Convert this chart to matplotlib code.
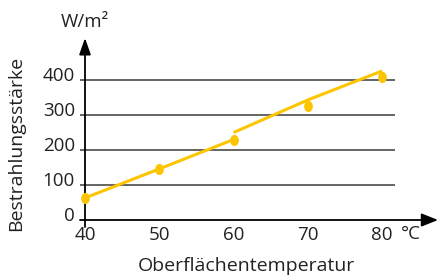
import matplotlib
matplotlib.use("Agg")
import matplotlib.pyplot as plt
from matplotlib.path import Path
import numpy as np

# data
temps = [40, 50, 60, 70, 80]
measured = [63, 146, 230, 327, 409]
fit_low_x = [40, 50, 60]
fit_low_y = [63, 146, 230]
fit_high_x = [60, 70, 80]
fit_high_y = [250, 343, 426]
y_ticks = [0, 100, 200, 300, 400]
x_ticks = [40, 50, 60, 70, 80]

YELLOW = "#FCC500"
DARK = "#3a3a3a"
TXT = "#222222"

plt.rcParams["font.family"] = ["Open Sans", "DejaVu Sans"]

W, H = 438, 276
fig = plt.figure(figsize=(W / 100, H / 100), dpi=100)
# axes box in pixels: left 80, right 438, top 38, bottom 227
ax = fig.add_axes([80 / W, (H - 227) / H, (438 - 80) / W, (227 - 38) / H])
px_x = 10 / 74.3  # data units per pixel
px_y = 100 / 35.0
ax.set_xlim(40 - 5 * px_x, 40 + 353 * px_x)
ax.set_ylim(-7 * px_y, 182 * px_y)
ax.axis("off")

x0, x1 = ax.get_xlim()
y0, y1 = ax.get_ylim()

# grid lines
ax.hlines(y_ticks[1:], x0, 40 + 310 * px_x, color=DARK, lw=1.1, zorder=1)

# axes with arrows
ax.annotate("", xy=(x1, 0), xytext=(x0, 0),
            arrowprops=dict(arrowstyle="-|>,head_length=1.0,head_width=0.4",
                            color="black", lw=1.3, shrinkA=0, shrinkB=0))
ax.annotate("", xy=(40, y1), xytext=(40, y0),
            arrowprops=dict(arrowstyle="-|>,head_length=1.0,head_width=0.35",
                            color="black", lw=1.3, shrinkA=0, shrinkB=0))

# data
ax.plot(fit_low_x, fit_low_y, color=YELLOW, lw=2.2, solid_capstyle="butt", zorder=3)
ax.plot(fit_high_x, fit_high_y, color=YELLOW, lw=2.2, solid_capstyle="butt", zorder=3)
circ = Path.unit_circle()
ell = Path(circ.vertices * np.array([0.75, 1.0]), circ.codes)
ax.plot(temps, measured, linestyle="none", marker=ell, markersize=7,
        color=YELLOW, zorder=4)

# tick labels
for v in y_ticks:
    ax.text(40 - 10 * px_x, v + 4 * px_y, str(v), ha="right", va="center",
            fontsize=13.5, color=TXT)
for v in x_ticks:
    ax.text(v, -15 * px_y, str(v), ha="center", va="center",
            fontsize=13.5, color=TXT)

fig.text(401 / W, 1 - 234 / H, "°C", ha="left", va="center", fontsize=13.5, color=TXT)
fig.text(85 / W, 1 - 22 / H, "W/m²", ha="center", va="center", fontsize=13.5, color=TXT)
fig.text(246 / W, 1 - 266 / H, "Oberflächentemperatur", ha="center", va="center",
         fontsize=14, color=TXT)
fig.text(16 / W, 1 - 143 / H, "Bestrahlungsstärke", ha="center", va="center",
         rotation=90, fontsize=14, color=TXT)

fig.savefig("out.png", dpi=100)
